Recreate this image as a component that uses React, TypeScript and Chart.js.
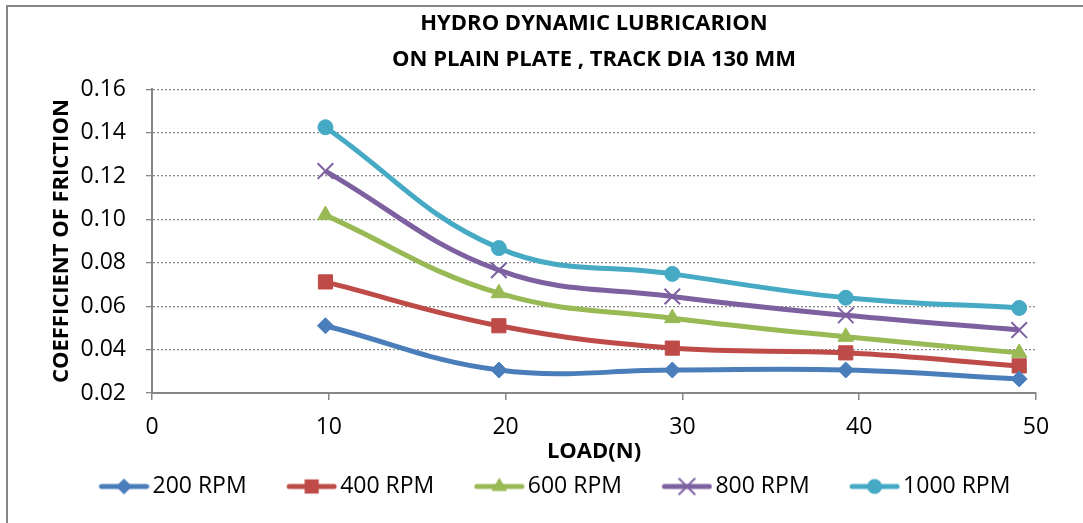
import React, { useEffect, useRef } from 'react';
import { Chart, registerables } from 'chart.js';

Chart.register(...registerables);

const loads = [9.81, 19.62, 29.43, 39.24, 49.05];
const seriesNames = ['200 RPM', '400 RPM', '600 RPM', '800 RPM', '1000 RPM'];
const rpm200 = [0.051, 0.0306, 0.0306, 0.0306, 0.0265];
const rpm400 = [0.0712, 0.051, 0.0407, 0.0385, 0.0325];
const rpm600 = [0.102, 0.066, 0.0545, 0.0459, 0.0385];
const rpm800 = [0.1223, 0.0766, 0.0645, 0.0558, 0.049];
const rpm1000 = [0.1425, 0.0868, 0.0749, 0.0639, 0.0592];
const seriesValues = [rpm200, rpm400, rpm600, rpm800, rpm1000];
const colors = ['#4A7EBB', '#BE4B48', '#98B954', '#7D60A0', '#46AAC5'];
const markers = ['rectRot', 'rect', 'triangle', 'crossRot', 'circle'];
const markerRadius = [8, 10, 9, 11, 7.5];
const titleLines = ['HYDRO DYNAMIC LUBRICARION', 'ON PLAIN PLATE , TRACK DIA 130 MM'];
const xTitle = 'LOAD(N)';
const yTitle = 'COEFFICIENT OF FRICTION';

const FONT = "'Open Sans', 'Noto Sans', sans-serif";
const LEG_IMG_W = 89;
const LEG_BOX_W = 72;

function drawMarker(ctx: CanvasRenderingContext2D, style: string, x: number, y: number, r: number, color: string) {
  ctx.fillStyle = color;
  ctx.strokeStyle = color;
  ctx.beginPath();
  if (style === 'rectRot') {
    ctx.moveTo(x, y - r);
    ctx.lineTo(x + r, y);
    ctx.lineTo(x, y + r);
    ctx.lineTo(x - r, y);
    ctx.closePath();
    ctx.fill();
  } else if (style === 'rect') {
    const s = r * Math.SQRT1_2;
    ctx.rect(x - s, y - s, 2 * s, 2 * s);
    ctx.fill();
  } else if (style === 'triangle') {
    const a = (Math.PI * 2) / 3;
    ctx.moveTo(x, y - r);
    ctx.lineTo(x + Math.sin(a) * r, y - Math.cos(a) * r);
    ctx.lineTo(x - Math.sin(a) * r, y - Math.cos(a) * r);
    ctx.closePath();
    ctx.fill();
  } else if (style === 'crossRot') {
    const o = r * Math.SQRT1_2;
    ctx.lineWidth = 2;
    ctx.moveTo(x - o, y - o);
    ctx.lineTo(x + o, y + o);
    ctx.moveTo(x - o, y + o);
    ctx.lineTo(x + o, y - o);
    ctx.stroke();
  } else {
    ctx.arc(x, y, r, 0, Math.PI * 2);
    ctx.fill();
  }
}

function legendImage(i: number): HTMLCanvasElement {
  const c = document.createElement('canvas');
  c.width = LEG_IMG_W;
  c.height = 24;
  const ctx = c.getContext('2d')!;
  ctx.strokeStyle = colors[i];
  ctx.lineWidth = 5;
  ctx.lineCap = 'round';
  ctx.beginPath();
  ctx.moveTo(41, 12);
  ctx.lineTo(86, 12);
  ctx.stroke();
  drawMarker(ctx, markers[i], 63.5, 12, markerRadius[i], colors[i]);
  return c;
}

export default function App() {
  const ref = useRef<HTMLCanvasElement | null>(null);

  useEffect(() => {
    if (!ref.current) return;
    const images = seriesNames.map((_, i) => legendImage(i));
    const datasets = seriesNames.map((name, i) => ({
      label: name,
      data: loads.map((x, j) => ({ x, y: seriesValues[i][j] })),
      borderColor: colors[i],
      backgroundColor: colors[i],
      borderWidth: 5,
      tension: 0.4,
      fill: false,
      pointStyle: markers[i] as any,
      pointRadius: markerRadius[i],
      pointBackgroundColor: colors[i],
      pointBorderColor: colors[i],
      pointBorderWidth: markers[i] === 'crossRot' ? 2 : 1,
      yAxisID: 'y',
    }));

    const shiftLegend = {
      id: 'shiftLegend',
      afterLayout(chart: any) {
        const lg = chart.legend;
        if (lg) {
          lg.left += 59;
          lg.right += 59;
        }
      },
    };

    const chart = new Chart(ref.current, {
      type: 'line',
      data: { datasets },
      plugins: [shiftLegend],
      options: {
        animation: false,
        responsive: false,
        layout: { padding: { left: 0, right: 0, top: 6, bottom: 15 } },
        plugins: {
          title: {
            display: true,
            text: titleLines,
            fullSize: false,
            color: '#000',
            font: { family: FONT, size: 22, weight: 'bold', lineHeight: 1.62 },
            padding: { top: 0, bottom: 12 },
          },
          legend: {
            position: 'bottom',
            align: 'start',
            labels: {
              usePointStyle: true,
              pointStyleWidth: LEG_BOX_W,
              boxHeight: 20,
              padding: 10,
              color: '#000',
              font: { family: FONT, size: 23 },
              generateLabels: () =>
                seriesNames.map((name, i) => ({
                  text: name,
                  pointStyle: images[i] as any,
                  fillStyle: colors[i],
                  strokeStyle: colors[i],
                  lineWidth: 0,
                  hidden: false,
                  datasetIndex: i,
                })),
            },
          },
          tooltip: { enabled: false },
        },
        scales: {
          x: {
            type: 'linear',
            min: 0,
            max: 50,
            ticks: { stepSize: 10, color: '#000', padding: 14, font: { family: FONT, size: 23 } },
            grid: { drawOnChartArea: false, drawTicks: true, tickLength: 7, color: '#868686', lineWidth: 1.5 },
            border: { color: '#868686', width: 2 },
            title: {
              display: true,
              text: xTitle,
              color: '#000',
              font: { family: FONT, size: 22, weight: 'bold' },
              padding: { top: -17, bottom: 0 },
            },
          },
          y: {
            min: 0.02,
            max: 0.16,
            afterFit: (s: any) => {
              s.width = 152;
            },
            ticks: {
              stepSize: 0.02,
              color: '#000',
              padding: 20,
              font: { family: FONT, size: 23 },
              callback: (v: any) => Number(v).toFixed(2),
            },
            grid: {
              color: '#8c8c8c',
              lineWidth: 1.3,
              drawTicks: true,
              tickLength: 6,
              tickColor: '#868686',
              tickBorderDash: [],
            } as any,
            border: { color: '#868686', width: 2, dash: [2, 2] } as any,
            title: {
              display: true,
              text: yTitle,
              color: '#000',
              font: { family: FONT, size: 22, weight: 'bold' },
              padding: { top: 49, bottom: 0 },
            },
          },
          yRight: {
            position: 'right',
            display: true,
            afterFit: (s: any) => {
              s.width = 47;
            },
            ticks: { display: false },
            grid: { display: false, drawTicks: false },
            border: { display: false },
          } as any,
        },
      },
    });
    return () => chart.destroy();
  }, []);

  return (
    <div style={{ position: 'fixed', left: 0, top: 0, width: 1083, height: 523, background: '#fff' }}>
      <canvas ref={ref} width={1083} height={523} style={{ position: 'absolute', left: 0, top: 0, width: 1083, height: 523 }} />
      <div
        style={{
          position: 'absolute',
          left: 6,
          top: 5,
          width: 1083,
          height: 523,
          borderLeft: '2px solid #868686',
          borderTop: '2px solid #868686',
          pointerEvents: 'none',
        }}
      />
    </div>
  );
}
